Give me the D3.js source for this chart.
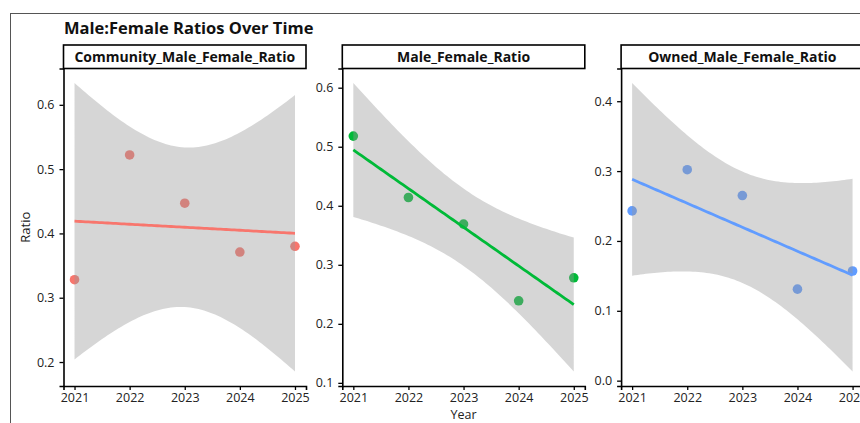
<!DOCTYPE html>
<html>
<head>
<meta charset="utf-8">
<script src="https://cdn.jsdelivr.net/npm/d3@7/dist/d3.min.js"></script>
<style>
  html, body { margin: 0; padding: 0; background: #fff; }
  svg { display: block; font-family: "Open Sans", "Noto Sans", sans-serif; }
</style>
</head>
<body>
<svg id="chart" width="860" height="423"></svg>
<script>
// ---- data ----
const years = [2021, 2022, 2023, 2024, 2025];
const panelNames = ["Community_Male_Female_Ratio", "Male_Female_Ratio", "Owned_Male_Female_Ratio"];
const communityRatio = [0.328, 0.522, 0.447, 0.371, 0.380];
const maleFemaleRatio = [0.518, 0.414, 0.369, 0.239, 0.278];
const ownedRatio = [0.243, 0.302, 0.265, 0.131, 0.157];
const seriesColors = ["#F8766D", "#00BA38", "#619CFF"];
const yTicks1 = [0.2, 0.3, 0.4, 0.5, 0.6];
const yTicks2 = [0.1, 0.2, 0.3, 0.4, 0.5, 0.6];
const yTicks3 = [0.0, 0.1, 0.2, 0.3, 0.4];
const xTicks = years;
const tQuantile = 3.182; // qt(0.975, df = 3)

const series = [communityRatio, maleFemaleRatio, ownedRatio];
const yTickSets = [yTicks1, yTicks2, yTicks3];

// ---- layout ----
const svg = d3.select("#chart");
const panelLeft0 = 63.5, panelW = 242.5, panelGap = 36.3;
const stripTop = 45, stripH = 23.5;
const plotTop = stripTop + stripH, plotBottom = 386;

// outer frame
svg.append("rect").attr("x", 10.5).attr("y", 13.5).attr("width", 870).attr("height", 430)
  .attr("fill", "none").attr("stroke", "#555").attr("stroke-width", 1);

svg.append("text").attr("x", 64).attr("y", 33.5)
  .attr("font-size", 16.5).attr("font-weight", "bold").attr("fill", "#111")
  .text("Male:Female Ratios Over Time");

function linFit(xs, ys) {
  const n = xs.length;
  const mx = d3.mean(xs), my = d3.mean(ys);
  const sxx = d3.sum(xs, x => (x - mx) ** 2);
  const sxy = d3.sum(xs.map((x, i) => (x - mx) * (ys[i] - my)));
  const b = sxy / sxx, a = my - b * mx;
  const sse = d3.sum(xs.map((x, i) => (ys[i] - (a + b * x)) ** 2));
  const s = Math.sqrt(sse / (n - 2));
  const pred = x => a + b * x;
  const se = x => s * Math.sqrt(1 / n + (x - mx) ** 2 / sxx);
  return { pred, se };
}

series.forEach((vals, p) => {
  const left = panelLeft0 + p * (panelW + panelGap);
  const fit = linFit(years, vals);
  const grid = d3.range(0, 81).map(i => years[0] + (years[years.length - 1] - years[0]) * i / 80);
  const band = grid.map(x => ({ x, y: fit.pred(x), lo: fit.pred(x) - tQuantile * fit.se(x), hi: fit.pred(x) + tQuantile * fit.se(x) }));
  const ymin = Math.min(d3.min(band, d => d.lo), d3.min(vals));
  const ymax = Math.max(d3.max(band, d => d.hi), d3.max(vals));
  const ypad = (ymax - ymin) * 0.05;
  const xpad = (years[years.length - 1] - years[0]) * 0.05;

  const x = d3.scaleLinear().domain([years[0] - xpad, years[years.length - 1] + xpad]).range([left, left + panelW]);
  const y = d3.scaleLinear().domain([ymin - ypad, ymax + ypad]).range([plotBottom, plotTop]);

  const g = svg.append("g");
  const clipId = "clip" + p;
  svg.append("clipPath").attr("id", clipId).append("rect")
    .attr("x", left).attr("y", plotTop).attr("width", panelW).attr("height", plotBottom - plotTop);
  const plot = g.append("g").attr("clip-path", `url(#${clipId})`);

  // points
  plot.selectAll("circle").data(years).join("circle")
    .attr("cx", d => x(d)).attr("cy", (d, i) => y(vals[i])).attr("r", 4.8)
    .attr("fill", seriesColors[p]);

  // ribbon
  plot.append("path").datum(band)
    .attr("d", d3.area().x(d => x(d.x)).y0(d => y(d.lo)).y1(d => y(d.hi)))
    .attr("fill", "#999999").attr("fill-opacity", 0.4);

  // fit line
  plot.append("path").datum(band)
    .attr("d", d3.line().x(d => x(d.x)).y(d => y(d.y)))
    .attr("fill", "none").attr("stroke", seriesColors[p]).attr("stroke-width", 2.8);

  // axes
  const yAxis = g.append("g").attr("transform", `translate(${left},0)`)
    .call(d3.axisLeft(y).tickValues(yTickSets[p]).tickFormat(d3.format(".1f")).tickSizeOuter(0).tickSize(4).tickPadding(5));
  const xAxis = g.append("g").attr("transform", `translate(0,${plotBottom})`)
    .call(d3.axisBottom(x).tickValues(xTicks).tickFormat(d3.format("d")).tickSizeOuter(0).tickSize(4).tickPadding(3));
  [yAxis, xAxis].forEach(ax => {
    ax.select(".domain").attr("stroke", "#000").attr("stroke-width", 1.6);
    ax.selectAll(".tick line").attr("stroke", "#000").attr("stroke-width", 1.3);
    ax.selectAll(".tick text").attr("fill", "#222").attr("font-size", 12.5)
      .attr("font-family", "\"Open Sans\", \"Noto Sans\", sans-serif");
  });

  // strip
  g.append("rect").attr("x", left).attr("y", stripTop).attr("width", panelW).attr("height", stripH)
    .attr("fill", "#fff").attr("stroke", "#000").attr("stroke-width", 1.6);
  g.append("text").attr("x", left + panelW / 2).attr("y", stripTop + stripH / 2 + 5)
    .attr("text-anchor", "middle").attr("font-size", 14).attr("font-weight", "bold").attr("fill", "#111")
    .text(panelNames[p]);
});

// axis titles
const midPanelCenter = panelLeft0 + (panelW + panelGap) + panelW / 2;
svg.append("text").attr("x", midPanelCenter).attr("y", 419)
  .attr("text-anchor", "middle").attr("font-size", 12.5).attr("fill", "#222").text("Year");
svg.append("text").attr("transform", `translate(30,${(plotTop + plotBottom) / 2}) rotate(-90)`)
  .attr("text-anchor", "middle").attr("font-size", 13).attr("fill", "#222").text("Ratio");
</script>
</body>
</html>
